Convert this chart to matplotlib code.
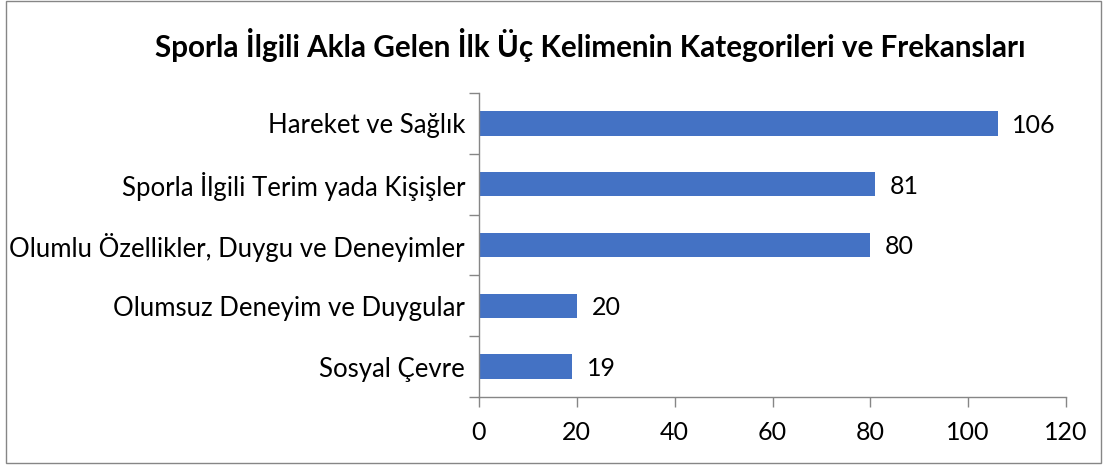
import matplotlib.pyplot as plt
from matplotlib.patches import Rectangle

# categories and frequencies (top to bottom as in the chart)
categories = ["Hareket ve Sağlık",
              "Sporla İlgili Terim yada Kişişler",
              "Olumlu Özellikler, Duygu ve Deneyimler",
              "Olumsuz Deneyim ve Duygular",
              "Sosyal Çevre"]
counts = [106, 81, 80, 20, 19]
xticks = [0, 20, 40, 60, 80, 100, 120]

plt.rcParams['font.family'] = ['Lato', 'DejaVu Sans']

fig = plt.figure(figsize=(11.1, 4.65), dpi=100)
ax = fig.add_axes([479/1110, 1 - 397/465, (1066-479)/1110, (397-93)/465])

ypos = list(range(len(categories)))[::-1]
ax.barh(ypos, counts, height=0.4, color='#4472C4')
for y, c in zip(ypos, counts):
    ax.text(c + 3, y - 0.03, str(c), va='center', ha='left', fontsize=18)

ax.set_xlim(0, 120)
ax.set_ylim(-0.5, len(categories) - 0.5)
ax.set_xticks(xticks)
ax.set_xticklabels([str(t) for t in xticks], fontsize=18)
ax.set_yticks(ypos)
ax.set_yticklabels(categories, fontsize=18.5)
ax.yaxis.set_minor_locator(plt.FixedLocator([i - 0.5 for i in range(len(categories) + 1)]))
ax.tick_params(axis='y', which='major', length=0, pad=10)
ax.tick_params(axis='y', which='minor', length=7, color='#868686', width=1)
ax.tick_params(axis='x', length=7, color='#868686', width=1, pad=10)

for s in ['top', 'right']:
    ax.spines[s].set_visible(False)
for s in ['left', 'bottom']:
    ax.spines[s].set_color('#868686')
    ax.spines[s].set_linewidth(1)

fig.text(590/1110, 1 - 45/465, "Sporla İlgili Akla Gelen İlk Üç Kelimenin Kategorileri ve Frekansları",
         ha='center', va='center', fontsize=21.3, fontweight='bold')

fig.patches.append(Rectangle((6/1110, 1 - 463/465), (1101-6)/1110, (463-1)/465,
                             transform=fig.transFigure, fill=False,
                             edgecolor='#868686', linewidth=1))

fig.savefig("out.png", dpi=100)
